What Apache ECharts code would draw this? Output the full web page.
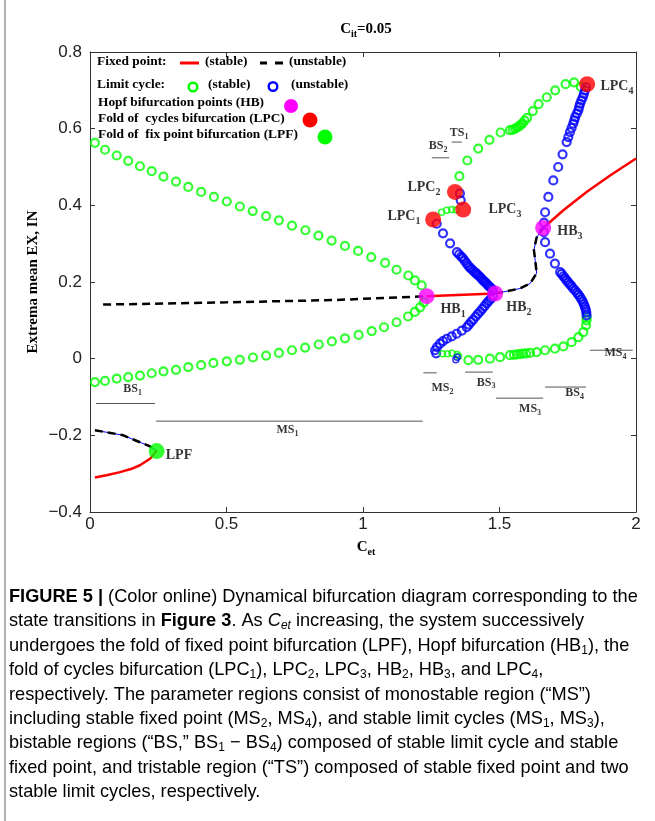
<!DOCTYPE html>
<html><head><meta charset="utf-8">
<script src="https://cdn.jsdelivr.net/npm/echarts@6/dist/echarts.min.js"></script>
<style>html,body{margin:0;padding:0;background:#fff}#c{width:655px;height:821px}</style>
</head><body><div id="c"></div><script>
// ---------------- DATA (C_et, extrema value) ----------------
const xTickLabels = ['0', '0.5', '1', '1.5', '2'];
const yTickLabels = ['\u22120.4', '\u22120.2', '0', '0.2', '0.4', '0.6', '0.8'];

// stable fixed points (red)
const stableFixedLPF = [[0.018,-0.310],[0.060,-0.304],[0.110,-0.296],[0.150,-0.288],[0.183,-0.278],[0.220,-0.261],[0.244,-0.241]];
const stableFixedMid = [[1.233,0.163],[1.484,0.170]];
const stableFixedRight = [[1.660,0.341],[1.734,0.387],[1.819,0.435],[1.905,0.478],[2.000,0.522]];
// unstable fixed points (black dashed)
const unstableFixedLPF = [[0.018,-0.187],[0.070,-0.193],[0.122,-0.200],[0.183,-0.218],[0.220,-0.229],[0.244,-0.241]];
const unstableFixedMid = [[0.048,0.141],[0.500,0.147],[0.900,0.153],[1.233,0.163]];
const unstableFixedRight = [[1.484,0.170],[1.513,0.174],[1.575,0.183],[1.612,0.196],[1.636,0.223],[1.631,0.256],[1.626,0.283],[1.636,0.316],[1.660,0.341]];

// stable limit cycles (green)
const stableCycleUpperLeft = [[0.018,0.563],[0.055,0.545],[0.098,0.530],[0.140,0.516],[0.183,0.502],[0.226,0.489],[0.269,0.475],[0.315,0.462],[0.360,0.448],[0.407,0.435],[0.454,0.422],[0.501,0.410],[0.549,0.397],[0.596,0.385],[0.645,0.372],[0.692,0.361],[0.740,0.347],[0.789,0.335],[0.837,0.321],[0.885,0.308],[0.934,0.294],[0.982,0.281],[1.030,0.265],[1.081,0.250],[1.123,0.232],[1.166,0.217],[1.190,0.204],[1.215,0.191]];
const stableCycleLowerLeft = [[0.018,-0.061],[0.055,-0.058],[0.098,-0.052],[0.140,-0.048],[0.183,-0.044],[0.226,-0.038],[0.269,-0.033],[0.315,-0.029],[0.360,-0.022],[0.407,-0.017],[0.452,-0.011],[0.501,-0.007],[0.549,-0.003],[0.597,0.003],[0.645,0.008],[0.692,0.015],[0.740,0.022],[0.788,0.029],[0.838,0.037],[0.886,0.045],[0.934,0.053],[0.984,0.062],[1.032,0.072],[1.077,0.082],[1.123,0.095],[1.165,0.110],[1.190,0.122],[1.209,0.134],[1.223,0.147]];
const stableCycleUpperRight = [[1.353,0.476],[1.382,0.517],[1.422,0.548],[1.463,0.571],[1.504,0.590],[1.538,0.596],[1.548,0.597],[1.557,0.600],[1.565,0.603],[1.571,0.606],[1.578,0.610],[1.584,0.614],[1.592,0.621],[1.601,0.628],[1.622,0.646],[1.643,0.664],[1.673,0.682],[1.704,0.700],[1.742,0.716],[1.773,0.721],[1.798,0.709]];
const stableCycleLowerRight = [[1.386,-0.004],[1.422,-0.003],[1.465,0.000],[1.502,0.004],[1.538,0.009],[1.553,0.010],[1.564,0.011],[1.575,0.012],[1.586,0.013],[1.597,0.014],[1.612,0.015],[1.636,0.017],[1.667,0.022],[1.703,0.026],[1.734,0.032],[1.764,0.043],[1.789,0.056],[1.807,0.069],[1.817,0.087],[1.819,0.100],[1.819,0.108]];
const stableCycleSmall = [[1.288,0.382],[1.307,0.387],[1.325,0.389],[1.341,0.388],[1.291,0.013],[1.309,0.013],[1.326,0.014],[1.345,0.011],[1.350,0.006]];

// unstable limit cycles (blue)
const unstableCycleA = [[1.270,0.352],[1.293,0.327],[1.319,0.301],[1.344,0.278],[1.352,0.272],[1.360,0.266],[1.366,0.262],[1.372,0.256],[1.379,0.249],[1.385,0.243],[1.391,0.238],[1.397,0.234],[1.403,0.230],[1.409,0.226],[1.414,0.223],[1.418,0.220],[1.423,0.217],[1.429,0.213],[1.434,0.209],[1.440,0.204],[1.445,0.201],[1.450,0.198],[1.455,0.194],[1.460,0.190],[1.465,0.187],[1.471,0.183],[1.476,0.178]];
const unstableCycleB = [[1.476,0.163],[1.468,0.156],[1.460,0.150],[1.453,0.144],[1.445,0.137],[1.437,0.130],[1.429,0.123],[1.421,0.117],[1.413,0.110],[1.404,0.102],[1.396,0.096],[1.388,0.089],[1.380,0.082],[1.362,0.073],[1.343,0.065],[1.325,0.058],[1.307,0.052],[1.293,0.046],[1.282,0.039],[1.271,0.030],[1.264,0.022],[1.268,0.014]];
const unstableCycleC = [[1.819,0.113],[1.818,0.121],[1.816,0.128],[1.813,0.135],[1.809,0.142],[1.805,0.149],[1.800,0.155],[1.795,0.161],[1.789,0.167],[1.784,0.172],[1.777,0.178],[1.770,0.183],[1.764,0.189],[1.758,0.194],[1.752,0.199],[1.746,0.204],[1.740,0.210],[1.734,0.215],[1.728,0.221],[1.722,0.226],[1.703,0.248],[1.685,0.274],[1.667,0.304],[1.662,0.330],[1.663,0.355],[1.667,0.382],[1.679,0.422],[1.697,0.465],[1.715,0.500],[1.731,0.533],[1.746,0.565],[1.752,0.578],[1.758,0.591],[1.764,0.602],[1.770,0.613],[1.774,0.622],[1.777,0.630],[1.783,0.639],[1.789,0.648],[1.792,0.657],[1.795,0.665],[1.800,0.674],[1.805,0.682],[1.809,0.691],[1.813,0.700],[1.817,0.708]];
const unstableCycleD = [[1.358,0.413],[1.355,0.431]];
const unstableCycleSmall = [[1.345,0.004],[1.340,-0.003]];

// bifurcation points
const hopfPoints = [[1.233,0.163],[1.484,0.170],[1.660,0.341]];
const lpcPoints = [[1.257,0.363],[1.337,0.435],[1.367,0.389],[1.821,0.716]];
const lpfPoints = [[0.244,-0.241]];

// annotations: [name, subscript, C_et, value]
const pointLabels = [['LPF','',0.326,-0.252],['HB','1',1.330,0.129],['HB','2',1.571,0.134],['HB','3',1.758,0.332],
  ['LPC','1',1.150,0.371],['LPC','2',1.223,0.447],['LPC','3',1.520,0.390],['LPC','4',1.930,0.710]];
const regionLabels = [['BS','1',0.156,-0.080],['MS','1',0.723,-0.187],['MS','2',1.291,-0.077],['BS','3',1.451,-0.062],
  ['MS','3',1.612,-0.132],['BS','4',1.775,-0.090],['MS','4',1.925,0.014],['BS','2',1.275,0.556],['TS','1',1.352,0.588]];
// region bars: [start C_et, end C_et, level]
const regionBars = [[0.022,0.238,-0.117],[0.242,1.219,-0.163],[1.221,1.270,-0.037],[1.374,1.475,-0.035],
  [1.487,1.660,-0.103],[1.667,1.817,-0.074],[1.832,1.988,0.022],[1.252,1.316,0.524],[1.325,1.362,0.565]];

// ---------------- CHART ----------------
const SERIF = '"Liberation Serif","Times New Roman",serif';
const SANS = '"Liberation Sans",Arial,Helvetica,sans-serif';
const GREEN = '#00ff00', BLUE = '#0000ff', RED = '#ff0000', MAG = '#ff00ff';

const chart = echarts.init(document.getElementById('c'));
const series = [];

regionBars.forEach(b => series.push({type:'line', data:[[b[0],b[2]],[b[1],b[2]]], symbol:'none', silent:true, z:1,
  lineStyle:{color:'#555', width:1}}));

function fixedLine(data, color, dashed, width, z) {
  return {type:'line', data, symbol:'none', silent:true, z, lineStyle:{color, width, type: dashed ? [8,5] : 'solid', cap:'butt'}};
}
series.push(fixedLine(unstableFixedLPF, BLUE, false, 1, 2));
series.push(fixedLine(unstableFixedRight, BLUE, false, 1, 2));
series.push(fixedLine(unstableFixedLPF, '#000', true, 2.5, 3));
series.push(fixedLine(unstableFixedMid, '#000', true, 2.5, 3));
series.push(fixedLine(unstableFixedRight, '#000', true, 2.5, 3));
series.push(fixedLine(stableFixedLPF, RED, false, 2.5, 3));
series.push(fixedLine(stableFixedMid, RED, false, 2.5, 3));
series.push(fixedLine(stableFixedRight, RED, false, 2.5, 3));

function ring(data, color, size, bw, z) {
  return {type:'scatter', data, symbol:'circle', symbolSize:size, silent:true, z,
    itemStyle:{color:'rgba(0,0,0,0)', borderColor:color, borderWidth:bw}};
}
[stableCycleUpperLeft, stableCycleLowerLeft, stableCycleUpperRight, stableCycleLowerRight].forEach(d => series.push(ring(d, GREEN, 8, 2.2, 4)));
[unstableCycleA, unstableCycleB, unstableCycleC, unstableCycleD].forEach(d => series.push(ring(d, BLUE, 8, 2.2, 4)));
series.push(ring(stableCycleSmall, GREEN, 6, 1.5, 5));
series.push(ring(unstableCycleSmall, BLUE, 6, 1.5, 5));

function dots(data, color) {
  return {type:'scatter', data, symbol:'circle', symbolSize:16, silent:true, z:6, itemStyle:{color}};
}
series.push(dots(hopfPoints, MAG));
series.push(dots(lpcPoints, RED));
series.push(dots(lpfPoints, GREEN));

const labRich = {
  b:{fontFamily:SERIF, fontWeight:'bold', fontSize:14, lineHeight:20, color:'#000'},
  s:{fontFamily:SERIF, fontWeight:'bold', fontSize:10, lineHeight:10, padding:[10,0,0,0], color:'#000'},
  rb:{fontFamily:SERIF, fontWeight:'bold', fontSize:12, lineHeight:16, color:'#000'},
  rs:{fontFamily:SERIF, fontWeight:'bold', fontSize:8, lineHeight:8, padding:[8,0,0,0], color:'#000'}
};
series.push({type:'scatter', symbolSize:1, silent:true, z:7, itemStyle:{color:'rgba(0,0,0,0)'},
  data: pointLabels.map(p => ({value:[p[2],p[3]], t:p[0], s:p[1]})),
  label:{show:true, position:'inside', align:'center', verticalAlign:'middle', rich:labRich,
    formatter: p => p.data.s ? `{b|${p.data.t}}{s|${p.data.s}}` : `{b|${p.data.t}}`}});
series.push({type:'scatter', symbolSize:1, silent:true, z:7, itemStyle:{color:'rgba(0,0,0,0)'},
  data: regionLabels.map(p => ({value:[p[2],p[3]], t:p[0], s:p[1]})),
  label:{show:true, position:'inside', align:'center', verticalAlign:'middle', rich:labRich,
    formatter: p => `{rb|${p.data.t}}{rs|${p.data.s}}`}});

const axisCommon = {type:'value', splitLine:{show:false},
  axisLine:{show:true, onZero:false, lineStyle:{color:'#333', width:1}},
  axisTick:{show:true, inside:true, length:5, lineStyle:{color:'#333'}}};

// graphics: title, legend, axis names, caption, border
const T = (x, y, text, rich, extra) => ({type:'text', x, y, silent:true, z:100,
  style:Object.assign({text, rich, align:'left', verticalAlign:'middle', textAlign:'left', textVerticalAlign:'middle'}, extra||{})});
const legFont = {fontFamily:SERIF, fontWeight:'bold', fontSize:13.4, color:'#000'};
const legRich = {n: Object.assign({lineHeight:16}, legFont)};
const titleRich = {
  b:{fontFamily:SERIF, fontWeight:'bold', fontSize:15, lineHeight:20, color:'#000'},
  s:{fontFamily:SERIF, fontWeight:'bold', fontSize:10, lineHeight:10, padding:[10,0,0,0], color:'#000'}
};
const graphics = [
  {type:'line', shape:{x1:5, y1:0, x2:5, y2:821}, style:{stroke:'#9a9a9a', lineWidth:1.5}, silent:true},
  T(366, 29, '{b|C}{s|it}{b|=0.05}', titleRich, {align:'center', textAlign:'center'}),
  T(366, 547, '{b|C}{s|et}', titleRich, {align:'center', textAlign:'center'}),
  {type:'text', x:33, y:282, rotation:Math.PI/2, silent:true,
    style:{text:'Extrema mean EX, IN', font:'bold 15px ' + SERIF, fill:'#000', align:'center', verticalAlign:'middle', textAlign:'center', textVerticalAlign:'middle'}},
  T(97, 62, '{n|Fixed point:}', legRich),
  {type:'line', shape:{x1:180, y1:63, x2:199, y2:63}, style:{stroke:RED, lineWidth:3}, silent:true},
  T(205, 62, '{n|(stable)}', legRich),
  {type:'line', shape:{x1:260, y1:63, x2:267, y2:63}, style:{stroke:'#000', lineWidth:3}, silent:true},
  {type:'line', shape:{x1:275, y1:63, x2:283, y2:63}, style:{stroke:'#000', lineWidth:3}, silent:true},
  T(289, 62, '{n|(unstable)}', legRich),
  T(97, 85, '{n|Limit cycle:}', legRich),
  {type:'circle', shape:{cx:193, cy:87, r:4.3}, style:{fill:'none', stroke:GREEN, lineWidth:2.4}, silent:true},
  T(208, 85, '{n|(stable)}', legRich),
  {type:'circle', shape:{cx:273, cy:86.5, r:4.3}, style:{fill:'none', stroke:BLUE, lineWidth:2.4}, silent:true},
  T(291, 85, '{n|(unstable)}', legRich),
  T(98, 103, '{n|Hopf bifurcation points (HB)}', legRich),
  {type:'circle', shape:{cx:291, cy:106, r:7}, style:{fill:MAG}, silent:true},
  T(98, 119, '{n|Fold of  cycles bifurcation (LPC)}', legRich),
  {type:'circle', shape:{cx:310, cy:120, r:7.5}, style:{fill:RED}, silent:true},
  T(98, 135, '{n|Fold of  fix point bifurcation (LPF)}', legRich),
  {type:'circle', shape:{cx:325, cy:137, r:7.5}, style:{fill:GREEN}, silent:true}
];

const CF = 18.2;
const capRich = {
  n:{fontFamily:SANS, fontSize:CF, lineHeight:24, color:'#231f20'},
  b:{fontFamily:SANS, fontSize:CF, lineHeight:24, color:'#231f20', fontWeight:'bold'},
  i:{fontFamily:SANS, fontSize:CF, lineHeight:24, color:'#231f20', fontStyle:'italic'},
  s:{fontFamily:SANS, fontSize:12, lineHeight:12, padding:[9,0,0,0], color:'#231f20'},
  is:{fontFamily:SANS, fontSize:12, lineHeight:12, padding:[9,0,0,0], color:'#231f20', fontStyle:'italic'}
};
const captionLines = [
  '{b|FIGURE 5 |}{n| (Color online) Dynamical bifurcation diagram corresponding to the}',
  '{n|state transitions in }{b|Figure 3}{n|. As }{i|C}{is|et}{n| increasing, the system successively}',
  '{n|undergoes the fold of fixed point bifurcation (LPF), Hopf bifurcation (HB}{s|1}{n|), the}',
  '{n|fold of cycles bifurcation (LPC}{s|1}{n|), LPC}{s|2}{n|, LPC}{s|3}{n|, HB}{s|2}{n|, HB}{s|3}{n|, and LPC}{s|4}{n|,}',
  '{n|respectively. The parameter regions consist of monostable region (\u201cMS\u201d)}',
  '{n|including stable fixed point (MS}{s|2}{n|, MS}{s|4}{n|), and stable limit cycles (MS}{s|1}{n|, MS}{s|3}{n|),}',
  '{n|bistable regions (\u201cBS,\u201d BS}{s|1}{n| \u2212 BS}{s|4}{n|) composed of stable limit cycle and stable}',
  '{n|fixed point, and tristable region (\u201cTS\u201d) composed of stable fixed point and two}',
  '{n|stable limit cycles, respectively.}'
];
captionLines.forEach((t, k) => graphics.push(T(9, 597 + k * 24.4, t, capRich)));

chart.setOption({
  animation:false,
  backgroundColor:'#fff',
  grid:{left:90, right:19, top:52, bottom:309},
  xAxis:[
    Object.assign({}, axisCommon, {min:0, max:2, interval:0.5, position:'bottom',
      axisLabel:{margin:4, fontFamily:SANS, fontSize:17, color:'#222',
        formatter:(v) => xTickLabels[Math.round(v / 0.5)]}}),
    Object.assign({}, axisCommon, {min:0, max:2, interval:0.5, position:'top', axisLabel:{show:false}})
  ],
  yAxis:[
    Object.assign({}, axisCommon, {min:-0.4, max:0.8, interval:0.2, position:'left',
      axisLabel:{margin:8, fontFamily:SANS, fontSize:17, color:'#222',
        formatter:(v) => yTickLabels[Math.round((v + 0.4) / 0.2)]}}),
    Object.assign({}, axisCommon, {min:-0.4, max:0.8, interval:0.2, position:'right', axisLabel:{show:false}})
  ],
  series,
  graphic:graphics
});
</script></body></html>
